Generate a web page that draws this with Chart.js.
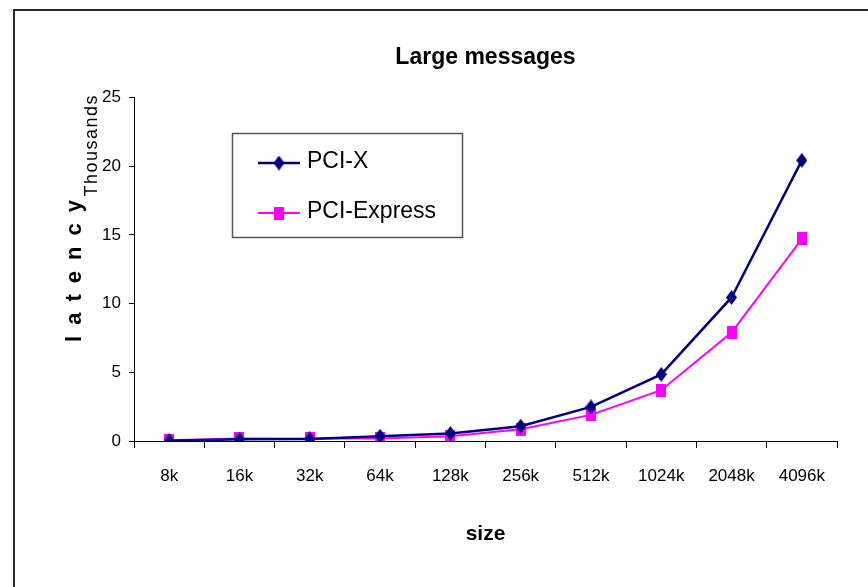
<!DOCTYPE html>
<html>
<head>
<meta charset="utf-8">
<title>Large messages</title>
<script src="https://cdn.jsdelivr.net/npm/chart.js@4/dist/chart.umd.min.js"></script>
<style>
  html, body { margin: 0; padding: 0; background: #ffffff; }
  #wrap { width: 868px; height: 587px; position: relative; }
</style>
</head>
<body>
<div id="wrap"><canvas id="chart" width="868" height="587"></canvas></div>
<script>
// Message sizes along the x axis
const sizes = ['8k', '16k', '32k', '64k', '128k', '256k', '512k', '1024k', '2048k', '4096k'];
// Latency, in thousands
const pciX       = [0.02, 0.12, 0.15, 0.35, 0.55, 1.08, 2.48, 4.85, 10.45, 20.43];
const pciExpress = [0.05, 0.18, 0.18, 0.18, 0.35, 0.85, 1.90, 3.70, 7.90, 14.72];
// Y axis tick values
const yTicks = [0, 5, 10, 15, 20, 25];

const FONT = "'Liberation Sans', Arial, Helvetica, sans-serif";
const NAVY = '#000080';
const MAGENTA = '#FF00FF';

// Marker images: a tall diamond and a slightly tall square
function makeDiamond(w, h, color) {
  const c = document.createElement('canvas');
  c.width = w; c.height = h;
  const g = c.getContext('2d');
  g.fillStyle = color;
  g.beginPath();
  g.moveTo(w / 2, 0); g.lineTo(w, h / 2); g.lineTo(w / 2, h); g.lineTo(0, h / 2);
  g.closePath(); g.fill();
  return c;
}
function makeSquare(w, h, color) {
  const c = document.createElement('canvas');
  c.width = w; c.height = h;
  const g = c.getContext('2d');
  g.fillStyle = color;
  g.fillRect(0, 0, w, h);
  return c;
}
const diamondMark = makeDiamond(11, 15, NAVY);
const squareMark = makeSquare(10, 13, MAGENTA);

// Outer frame (left and top edges of the chart border)
const framePlugin = {
  id: 'frame',
  beforeDraw(chart) {
    const ctx = chart.ctx;
    ctx.save();
    ctx.fillStyle = '#ffffff';
    ctx.fillRect(0, 0, chart.width, chart.height);
    ctx.strokeStyle = '#2a2a2a';
    ctx.lineWidth = 2;
    ctx.beginPath();
    ctx.moveTo(14, chart.height);
    ctx.lineTo(14, 10);
    ctx.lineTo(chart.width, 10);
    ctx.stroke();
    ctx.restore();
  }
};

// Vertical axis caption plus display-unit label
const yCaptionPlugin = {
  id: 'yCaption',
  afterDraw(chart) {
    const ctx = chart.ctx;
    ctx.save();
    ctx.fillStyle = '#000';
    ctx.textAlign = 'center';
    ctx.textBaseline = 'middle';
    ctx.translate(75, 271);
    ctx.rotate(-Math.PI / 2);
    ctx.font = 'bold 22px ' + FONT;
    ctx.letterSpacing = '11px';
    ctx.fillText('latency', 5.5, 0);
    ctx.restore();

    ctx.save();
    ctx.fillStyle = '#000';
    ctx.textAlign = 'center';
    ctx.textBaseline = 'middle';
    ctx.translate(92, 146);
    ctx.rotate(-Math.PI / 2);
    ctx.font = '18px ' + FONT;
    ctx.letterSpacing = '1.5px';
    ctx.fillText('Thousands', 0.75, 0);
    ctx.restore();
  }
};

// Boxed legend inside the plot
const boxLegendPlugin = {
  id: 'boxLegend',
  afterDraw(chart) {
    const ctx = chart.ctx;
    const box = { x: 232.5, y: 133.5, w: 230, h: 104 };
    ctx.save();
    ctx.fillStyle = '#ffffff';
    ctx.fillRect(box.x, box.y, box.w, box.h);
    ctx.strokeStyle = '#555555';
    ctx.lineWidth = 1.5;
    ctx.strokeRect(box.x, box.y, box.w, box.h);

    const rows = [
      { ds: chart.data.datasets[0], y: 163 },
      { ds: chart.data.datasets[1], y: 213 }
    ];
    rows.forEach(r => {
      ctx.strokeStyle = r.ds.borderColor;
      ctx.lineWidth = r.ds.borderWidth;
      ctx.beginPath();
      ctx.moveTo(258, r.y);
      ctx.lineTo(300, r.y);
      ctx.stroke();
      const img = r.ds.pointStyle;
      ctx.drawImage(img, 279 - img.width / 2, r.y - img.height / 2);
      ctx.fillStyle = '#000';
      ctx.font = '23px ' + FONT;
      ctx.textAlign = 'left';
      ctx.textBaseline = 'middle';
      ctx.fillText(r.ds.label, 307, r.y - 1);
    });
    ctx.restore();
  }
};

new Chart(document.getElementById('chart'), {
  type: 'line',
  data: {
    labels: sizes,
    datasets: [
      {
        label: 'PCI-X',
        data: pciX,
        borderColor: NAVY,
        backgroundColor: NAVY,
        borderWidth: 2.5,
        pointStyle: diamondMark,
        tension: 0
      },
      {
        label: 'PCI-Express',
        data: pciExpress,
        borderColor: MAGENTA,
        backgroundColor: MAGENTA,
        borderWidth: 2,
        pointStyle: squareMark,
        tension: 0
      }
    ]
  },
  options: {
    responsive: false,
    animation: false,
    events: [],
    layout: { padding: { top: 0, right: 31, bottom: 0, left: 0 } },
    plugins: {
      legend: { display: false },
      tooltip: { enabled: false },
      title: {
        display: true,
        text: 'Large messages',
        fullSize: false,
        color: '#000',
        font: { family: FONT, size: 23, weight: 'bold', lineHeight: 1.2 },
        padding: { top: 44, bottom: 26 }
      }
    },
    scales: {
      x: {
        type: 'category',
        offset: true,
        afterFit(scale) { scale.height = 146; },
        border: { display: true, color: '#000', width: 1 },
        grid: {
          offset: true,
          drawOnChartArea: false,
          drawTicks: true,
          tickLength: 7,
          color: '#000',
          lineWidth: 1
        },
        ticks: {
          color: '#000',
          padding: 18,
          maxRotation: 0,
          autoSkip: false,
          font: { family: FONT, size: 17 }
        },
        title: {
          display: true,
          text: 'size',
          color: '#000',
          font: { family: FONT, size: 21, weight: 'bold', lineHeight: 1.2 },
          padding: { top: 0, bottom: 40 }
        }
      },
      y: {
        min: 0,
        max: 25,
        afterFit(scale) { scale.width = 134; },
        afterBuildTicks(scale) { scale.ticks = yTicks.map(v => ({ value: v })); },
        border: { display: true, color: '#000', width: 1 },
        grid: {
          drawOnChartArea: false,
          drawTicks: true,
          tickLength: 5,
          color: '#000',
          lineWidth: 1
        },
        ticks: {
          color: '#000',
          padding: 8,
          font: { family: FONT, size: 17 }
        }
      }
    }
  },
  plugins: [framePlugin, yCaptionPlugin, boxLegendPlugin]
});
</script>
</body>
</html>
